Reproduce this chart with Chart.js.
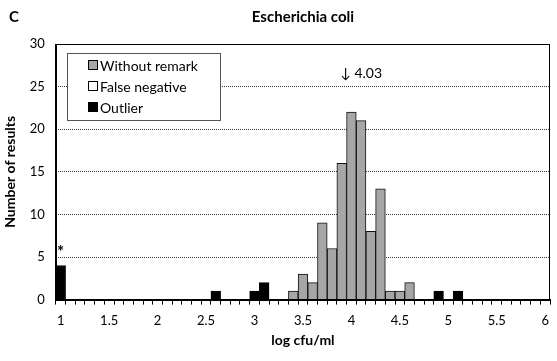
<!DOCTYPE html>
<html><head><meta charset="utf-8">
<script src="https://cdn.jsdelivr.net/npm/chart.js@4/dist/chart.umd.min.js"></script>
<style>html,body{margin:0;padding:0;background:#fff}#wrap{width:557px;height:361px}</style>
</head><body><div id="wrap"><canvas id="c" width="557" height="361"></canvas></div>
<script>
const categories = ["1","1.1","1.2","1.3","1.4","1.5","1.6","1.7","1.8","1.9","2","2.1","2.2","2.3","2.4","2.5","2.6","2.7","2.8","2.9","3","3.1","3.2","3.3","3.4","3.5","3.6","3.7","3.8","3.9","4","4.1","4.2","4.3","4.4","4.5","4.6","4.7","4.8","4.9","5","5.1","5.2","5.3","5.4","5.5","5.6","5.7","5.8","5.9","6"];
const tickLabels = ["1","1.5","2","2.5","3","3.5","4","4.5","5","5.5","6"];
const withoutRemark = [0,0,0,0,0,0,0,0,0,0,0,0,0,0,0,0,0,0,0,0,0,0,0,0,1,3,2,9,6,16,22,21,8,13,1,1,2,0,0,0,0,0,0,0,0,0,0,0,0,0,0];
const falseNegative = [0,0,0,0,0,0,0,0,0,0,0,0,0,0,0,0,0,0,0,0,0,0,0,0,0,0,0,0,0,0,0,0,0,0,0,0,0,0,0,0,0,0,0,0,0,0,0,0,0,0,0];
const outlier = [4,0,0,0,0,0,0,0,0,0,0,0,0,0,0,0,1,0,0,0,1,2,0,0,0,0,0,0,0,0,0,0,0,0,0,0,0,0,0,1,0,1,0,0,0,0,0,0,0,0,0];
const yTicks = [0,5,10,15,20,25,30];
const assignedValue = 4.03;
const panelLetter = "C";
const chartTitle = "Escherichia coli";

const FONT = "Lato, 'Open Sans', sans-serif";

const overlay = {
  id: 'overlay',
  afterDraw(chart) {
    const ctx = chart.ctx, a = chart.chartArea, xs = chart.scales.x, ys = chart.scales.y;
    ctx.save();
    // plot box
    ctx.strokeStyle = '#000'; ctx.lineWidth = 1;
    ctx.strokeRect(Math.round(a.left)+0.5, Math.round(a.top)+0.5, Math.round(a.right-a.left)-1, Math.round(a.bottom-a.top));
    // titles
    ctx.fillStyle = '#000';
    ctx.font = "bold 15px " + FONT;
    ctx.textAlign = 'left'; ctx.textBaseline = 'middle';
    ctx.fillText(panelLetter, 9, 17);
    ctx.textAlign = 'center';
    ctx.fillText(chartTitle, (a.left + a.right)/2, 17);
    // assigned value annotation
    const idx = (assignedValue - 1) * 10;
    const px = xs.getPixelForValue(idx);
    ctx.font = "14px " + FONT;
    ctx.textAlign = 'left';
    ctx.fillText("\u2193 " + assignedValue.toFixed(2), px - 14, 73);
    // asterisk above first outlier bar
    ctx.font = "bold 17px " + FONT;
    ctx.textAlign = 'center';
    ctx.fillText("*", xs.getPixelForValue(0), ys.getPixelForValue(outlier[0]) - 13);
    // legend
    const lx = 67, ly = 53, lw = 153, lh = 67;
    ctx.fillStyle = '#fff'; ctx.fillRect(lx, ly, lw, lh);
    ctx.strokeStyle = '#555'; ctx.lineWidth = 1;
    ctx.strokeRect(lx + 0.5, ly + 0.5, lw, lh);
    ctx.font = "14px " + FONT; ctx.textAlign = 'left'; ctx.textBaseline = 'middle';
    chart.data.datasets.forEach((ds, i) => {
      const y = ly + 12 + i * 21;
      ctx.fillStyle = ds.backgroundColor;
      ctx.fillRect(88.5, y - 4.5, 9, 9);
      ctx.strokeStyle = '#000';
      ctx.strokeRect(88.5, y - 4.5, 9, 9);
      ctx.fillStyle = '#000';
      ctx.fillText(ds.label, 100, y + 1);
    });
    ctx.restore();
  }
};

new Chart(document.getElementById('c'), {
  type: 'bar',
  data: {
    labels: categories,
    datasets: [
      {label: 'Without remark', data: withoutRemark, backgroundColor: '#a6a6a6', borderColor: '#111', borderWidth: 1, barPercentage: 1, categoryPercentage: 1},
      {label: 'False negative', data: falseNegative, backgroundColor: '#ffffff', borderColor: '#111', borderWidth: 1, barPercentage: 1, categoryPercentage: 1},
      {label: 'Outlier', data: outlier, backgroundColor: '#000000', borderColor: '#000', borderWidth: 1, barPercentage: 1, categoryPercentage: 1}
    ]
  },
  options: {
    responsive: false,
    animation: false,
    layout: {padding: {left: 2, right: 3, top: 44, bottom: 12}},
    plugins: {legend: {display: false}, tooltip: {enabled: false}, title: {display: false}},
    scales: {
      x: {
        stacked: true,
        grid: {drawOnChartArea: false, drawTicks: true, tickLength: 5, color: '#000', offset: true},
        border: {color: '#000', width: 1},
        ticks: {
          autoSkip: false, maxRotation: 0, minRotation: 0, padding: 8,
          color: '#000', font: {size: 13, family: FONT},
          callback: function(v) { const l = categories[v]; return tickLabels.includes(l) ? l : ''; }
        },
        title: {display: true, text: 'log cfu/ml', color: '#000', font: {size: 14, weight: 'bold', family: FONT}, padding: {top: -4, bottom: 0}}
      },
      y: {
        stacked: true, min: 0, max: 30,
        afterBuildTicks: (s) => { s.ticks = yTicks.map(v => ({value: v})); },
        grid: {drawTicks: false, color: (c) => (c.tick && (c.tick.value === 0 || c.tick.value === 30)) ? 'rgba(0,0,0,0)' : '#333'},
        border: {color: '#000', width: 1, dash: [1, 1]},
        ticks: {color: '#000', padding: 11, font: {size: 13, family: FONT}},
        title: {display: true, text: 'Number of results', color: '#000', font: {size: 14, weight: 'bold', family: FONT}, padding: {top: 0, bottom: 0}}
      }
    }
  },
  plugins: [overlay]
});
</script></body></html>
